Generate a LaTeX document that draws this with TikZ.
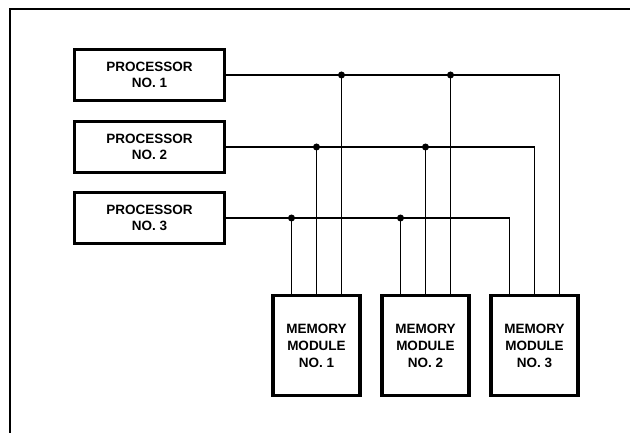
\documentclass[tikz,border=0pt]{standalone}
\usepackage{fontspec}
\setmainfont{Liberation Sans}
\begin{document}
\begin{tikzpicture}[x=1pt,y=-1pt,
  procbox/.style={draw,line width=3.2pt,minimum width=150pt,minimum height=51pt,inner sep=0pt,
    align=center,font=\fontsize{13.5}{15.5}\selectfont\bfseries},
  membox/.style={draw,line width=3.2pt,minimum width=87pt,minimum height=100pt,inner sep=0pt,
    align=center,font=\fontsize{13.5}{17}\selectfont\bfseries},
  wire/.style={line width=1.7pt},
  jdot/.style={circle,fill,inner sep=0pt,minimum size=7pt},
  framel/.style={line width=2pt}]
\useasboundingbox (0,0) rectangle (630,433);
\coordinate (fb) at (10,440);
\coordinate (fc) at (10,9.5);
\coordinate (fr) at (640,9.5);
\draw[framel] (fb) -- (fc) -- (fr);

\node[procbox] (p1) at (149.5,75) {PROCESSOR\\NO. 1};
\node[procbox] (p2) at (149.5,147) {PROCESSOR\\NO. 2};
\node[procbox] (p3) at (149.5,218) {PROCESSOR\\NO. 3};

\node[membox] (m1) at (316.5,345.5) {MEMORY\\MODULE\\NO. 1};
\node[membox] (m2) at (425.5,345.5) {MEMORY\\MODULE\\NO. 2};
\node[membox] (m3) at (534.5,345.5) {MEMORY\\MODULE\\NO. 3};

% bus lines to module 3 (corners, no dots)
\draw[wire] (p1.east) -| ([xshift=25pt]m3.north);
\draw[wire] (p2.east) -| (m3.north);
\draw[wire] (p3.east) -| ([xshift=-25pt]m3.north);

% taps for modules 1 and 2
\foreach \m in {m1,m2}{
  \draw[wire] ([xshift=25pt]\m.north) -- ([xshift=25pt]\m.north |- p1.east) node[jdot]{};
  \draw[wire] (\m.north) -- (\m.north |- p2.east) node[jdot]{};
  \draw[wire] ([xshift=-25pt]\m.north) -- ([xshift=-25pt]\m.north |- p3.east) node[jdot]{};
}
\end{tikzpicture}
\end{document}
